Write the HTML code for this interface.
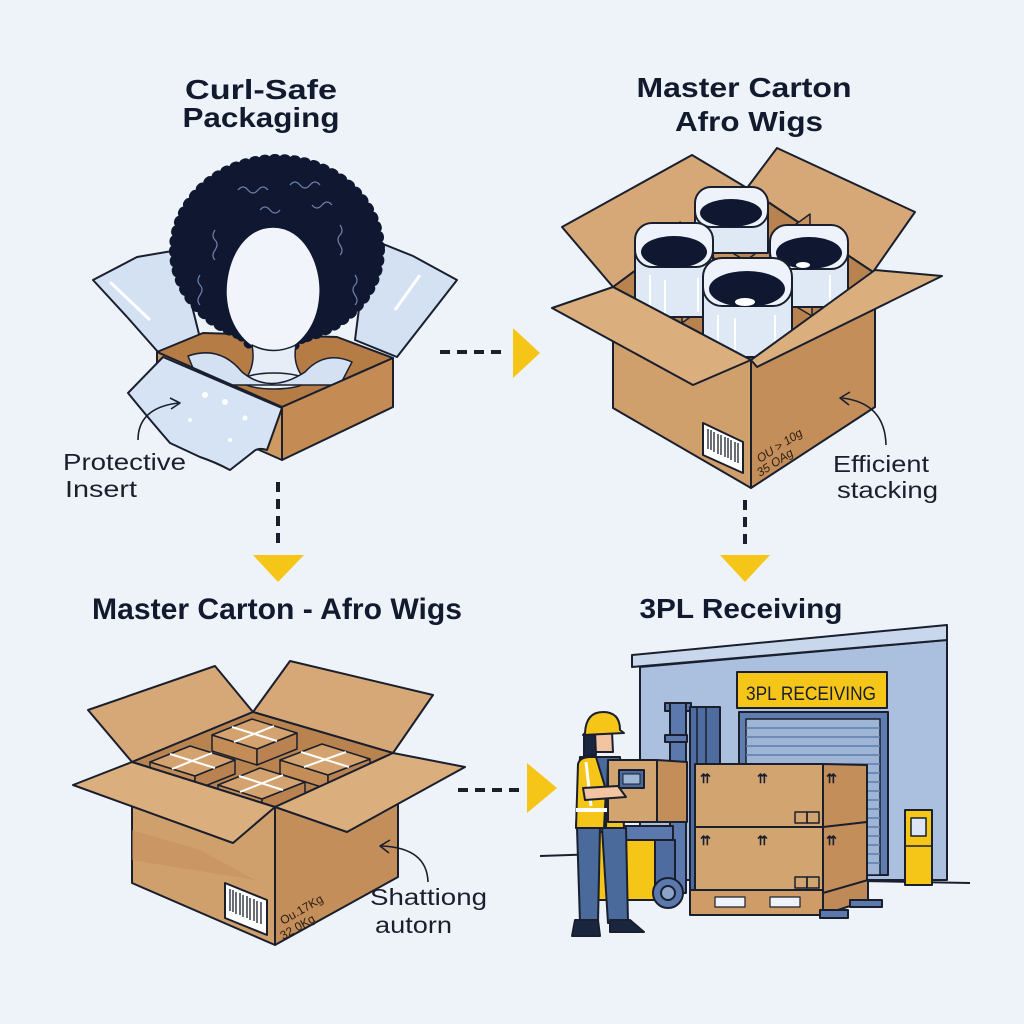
<!DOCTYPE html>
<html><head><meta charset="utf-8"><style>
html,body{margin:0;padding:0;background:#eef3fa;}
svg{display:block;}
text{font-family:"Liberation Sans",sans-serif;}
</style></head><body>
<svg width="1024" height="1024" viewBox="0 0 1024 1024" xmlns="http://www.w3.org/2000/svg">
<rect width="1024" height="1024" fill="#eef3fa"/>
<g stroke="#1a1f2e" stroke-width="2" stroke-linejoin="round">

<!-- ============ TOP LEFT ============ -->
<text x="261" y="99" font-size="28" font-weight="bold" fill="#121a2e" stroke="none" text-anchor="middle" textLength="152" lengthAdjust="spacingAndGlyphs">Curl-Safe</text>
<text x="261" y="127" font-size="28" font-weight="bold" fill="#121a2e" stroke="none" text-anchor="middle" textLength="157" lengthAdjust="spacingAndGlyphs">Packaging</text>

<!-- plastic wings -->
<path d="M93,280 L137,257 L178,250 L200,338 L158,352 L128,318 Z" fill="#d3e1f3"/>
<path d="M368,238 L413,256 L457,280 L397,357 L355,340 Z" fill="#d3e1f3"/>
<path d="M110,282 L150,320 M420,275 L395,310" stroke="#ffffff" stroke-width="3" fill="none"/>
<!-- box interior -->
<path d="M157,352 L203,333 L337,337 L393,358 L282,407 Z" fill="#b67c45"/>
<!-- hair -->
<ellipse cx="277" cy="250" rx="102" ry="90" fill="#0f1830" stroke="#0f1830" stroke-width="12" stroke-dasharray="1 9" stroke-linecap="round"/>
<g fill="none" stroke="#6f82aa" stroke-width="1.2">
<path d="M238,190 q5,-6 10,0 t10,0 t10,0"/><path d="M290,185 q5,-6 10,0 t10,0 t10,0"/>
<path d="M215,230 q-4,6 0,10 t0,10 t0,10"/><path d="M340,225 q4,6 0,10 t0,10 t0,10"/>
<path d="M200,275 q-4,6 0,10 t0,10 t0,10"/><path d="M355,275 q4,6 0,10 t0,10 t0,10"/>
<path d="M260,210 q5,-6 10,0 t10,0"/><path d="M312,205 q5,6 10,0 t10,0"/>
</g>
<!-- face -->
<path d="M273,227 C305,227 322,265 320,295 C318,330 295,353 273,353 C250,353 228,330 226,295 C225,262 242,227 273,227 Z" fill="none" stroke="#0f1830" stroke-width="9" stroke-dasharray="1 9" stroke-linecap="round"/>
<path d="M273,227 C305,227 322,265 320,295 C318,330 295,353 273,353 C250,353 228,330 226,295 C225,262 242,227 273,227 Z" fill="#f1f5fb" stroke="#0f1830" stroke-width="1.5"/>
<!-- neck -->
<path d="M252,345 Q256,365 245,380 L305,380 Q292,365 296,345 Q273,356 252,345 Z" fill="#e6edf7" stroke-width="1.5"/>
<ellipse cx="274" cy="381" rx="32" ry="8" fill="#e6edf7" stroke-width="1.5"/>
<!-- plastic around neck -->
<path d="M188,356 Q220,345 242,372 Q270,395 305,372 Q325,350 352,362 L340,385 L200,385 Z" fill="#d3e1f3" stroke-width="1.5"/>
<!-- box faces -->
<path d="M157,352 L282,407 L282,460 L157,405 Z" fill="#cf9a62"/>
<path d="M282,407 L393,358 L393,407 L282,460 Z" fill="#c48b55"/>
<!-- front sheet -->
<path d="M163,357 L282,408 L267,450 Q258,447 253,452 L230,470 Q215,462 200,457 L170,443 Q150,420 128,393 Z" fill="#d6e3f4"/>
<g fill="#ffffff" stroke="none"><circle cx="205" cy="395" r="3"/><circle cx="225" cy="402" r="3"/><circle cx="245" cy="418" r="2.5"/><circle cx="190" cy="420" r="2"/><circle cx="230" cy="440" r="2"/></g>
<!-- callout -->
<path d="M138,440 Q138,408 178,403" fill="none" stroke-width="1.6"/>
<path d="M170,398 L180,403 L171,409" fill="none" stroke-width="1.6"/>
<text x="63" y="470" font-size="23" fill="#1a1f2e" stroke="none" textLength="123" lengthAdjust="spacingAndGlyphs">Protective</text>
<text x="65" y="497" font-size="23" fill="#1a1f2e" stroke="none" textLength="72" lengthAdjust="spacingAndGlyphs">Insert</text>

<!-- ============ TOP RIGHT ============ -->
<text x="744" y="97" font-size="28" font-weight="bold" fill="#121a2e" stroke="none" text-anchor="middle" textLength="215" lengthAdjust="spacingAndGlyphs">Master Carton</text>
<text x="749" y="131" font-size="28" font-weight="bold" fill="#121a2e" stroke="none" text-anchor="middle" textLength="148" lengthAdjust="spacingAndGlyphs">Afro Wigs</text>

<path d="M562,227 L692,155 L747,188 L613,287 Z" fill="#d6a878"/>
<path d="M747,188 L777,148 L915,212 L873,272 Z" fill="#d6a878"/>
<path d="M613,287 L747,188 L873,272 L751,360 Z" fill="#b8834f"/>
<!-- dividers -->
<path d="M680,238 L812,316 L812,300 L680,222 Z" fill="#c8925c" stroke-width="1.5"/>
<path d="M810,230 L682,323 L682,307 L810,214 Z" fill="#c8925c" stroke-width="1.5"/>
<!-- bags -->
<g>
<path d="M695,205 L695,253 L768,253 L768,205 Z" fill="#dfe8f5"/>
<rect x="695" y="187" width="73" height="40" rx="16" fill="#eef3fb"/>
<ellipse cx="731" cy="213" rx="31" ry="14" fill="#0f1830" stroke="none"/>
</g>
<g>
<path d="M635,245 L635,317 L713,317 L713,245 Z" fill="#dfe8f5"/>
<path d="M650,275 V312 M665,280 V315 M698,278 V312" stroke="#ffffff" stroke-width="2" fill="none"/>
<rect x="635" y="223" width="78" height="44" rx="17" fill="#eef3fb"/>
<ellipse cx="674" cy="252" rx="33" ry="16" fill="#0f1830" stroke="none"/>
</g>
<g>
<path d="M770,245 L770,307 L848,307 L848,245 Z" fill="#dfe8f5"/>
<path d="M785,275 V302 M830,275 V302" stroke="#ffffff" stroke-width="2" fill="none"/>
<rect x="770" y="225" width="78" height="44" rx="17" fill="#eef3fb"/>
<ellipse cx="809" cy="253" rx="33" ry="16" fill="#0f1830" stroke="none"/>
<ellipse cx="803" cy="265" rx="7" ry="3" fill="#ffffff" stroke="none"/>
</g>
<g>
<path d="M703,280 L703,357 L792,357 L792,280 Z" fill="#dfe8f5"/>
<path d="M718,315 V352 M735,318 V355 M775,315 V352" stroke="#ffffff" stroke-width="2" fill="none"/>
<rect x="703" y="258" width="89" height="48" rx="19" fill="#eef3fb"/>
<ellipse cx="747" cy="289" rx="38" ry="18" fill="#0f1830" stroke="none"/>
<ellipse cx="745" cy="302" rx="10" ry="4" fill="#ffffff" stroke="none"/>
</g>
<!-- faces -->
<path d="M613,287 L751,360 L751,488 L613,408 Z" fill="#d0a06c"/>
<path d="M751,360 L875,272 L875,407 L751,488 Z" fill="#c48e5b"/>
<path d="M552,308 L613,287 L751,360 L693,385 Z" fill="#dbae7e"/>
<path d="M751,360 L875,270 L942,276 L757,367 Z" fill="#dbae7e"/>
<!-- barcode -->
<path d="M703,423 L743,442 L743,473 L703,455 Z" fill="#ffffff"/>
<g stroke="#1a1f2e" stroke-width="1.3">
<path d="M708,429 v20 M711,430 v20 M714,432 v20 M718,434 v20 M721,435 v20 M725,437 v20 M728,438 v20 M731,440 v20 M735,442 v20 M738,443 v20"/>
</g>
<text transform="translate(760,463) rotate(-33)" font-size="12" fill="#2a1e12" stroke="none" font-style="italic">OU &gt; 10g</text>
<text transform="translate(760,477) rotate(-33)" font-size="12" fill="#2a1e12" stroke="none" font-style="italic">35 OAg</text>
<path d="M886,445 Q885,403 842,398" fill="none" stroke-width="1.6"/>
<path d="M850,392 L840,398 L849,405" fill="none" stroke-width="1.6"/>
<text x="833" y="472" font-size="23" fill="#1a1f2e" stroke="none" textLength="96" lengthAdjust="spacingAndGlyphs">Efficient</text>
<text x="837" y="498" font-size="23" fill="#1a1f2e" stroke="none" textLength="101" lengthAdjust="spacingAndGlyphs">stacking</text>

<!-- ============ BOTTOM LEFT ============ -->
<text x="277" y="619" font-size="30" font-weight="bold" fill="#121a2e" stroke="none" text-anchor="middle" textLength="370" lengthAdjust="spacingAndGlyphs">Master Carton - Afro Wigs</text>

<path d="M88,710 L215,666 L253,712 L132,762 Z" fill="#d6a878"/>
<path d="M253,712 L290,661 L433,695 L393,753 Z" fill="#d6a878"/>
<path d="M132,762 L253,712 L393,753 L275,807 Z" fill="#b8834f"/>
<!-- inner boxes -->
<g stroke-width="1.5">
<path d="M212,735 L257,749 L257,765 L212,751 Z" fill="#c48d58"/>
<path d="M257,749 L297,733 L297,749 L257,765 Z" fill="#b98250"/>
<path d="M212,735 L257,749 L297,733 L252,719 Z" fill="#d3a26e"/>
<path d="M232,727 L277,741 M234,742 L274,726" stroke="#ffffff" stroke-width="2"/>
<path d="M150,762 L195,776 L195,790 L150,776 Z" fill="#c48d58"/>
<path d="M195,776 L235,760 L235,774 L195,790 Z" fill="#b98250"/>
<path d="M150,762 L195,776 L235,760 L190,746 Z" fill="#d3a26e"/>
<path d="M170,754 L215,768 M172,769 L212,753" stroke="#ffffff" stroke-width="2"/>
<path d="M280,760 L328,775 L328,789 L280,774 Z" fill="#c48d58"/>
<path d="M328,775 L370,759 L370,773 L328,789 Z" fill="#b98250"/>
<path d="M280,760 L328,775 L370,759 L322,744 Z" fill="#d3a26e"/>
<path d="M301,752 L349,767 M304,767 L346,752" stroke="#ffffff" stroke-width="2"/>
<path d="M218,785 L262,799 L262,812 L218,798 Z" fill="#c48d58"/>
<path d="M262,799 L305,782 L305,795 L262,812 Z" fill="#b98250"/>
<path d="M218,785 L262,799 L305,782 L260,768 Z" fill="#d3a26e"/>
<path d="M239,776 L283,790 M240,792 L283,775" stroke="#ffffff" stroke-width="2"/>
</g>
<!-- faces -->
<path d="M132,762 L275,807 L275,945 L132,883 Z" fill="#d0a06c"/>
<path d="M132,830 L200,850 L255,880 L132,860 Z" fill="#c48e5b" stroke="none" opacity="0.5"/>
<path d="M275,807 L398,755 L398,877 L275,945 Z" fill="#c48e5b"/>
<path d="M73,785 L132,762 L275,807 L233,843 Z" fill="#dbae7e"/>
<path d="M275,807 L393,753 L465,767 L347,832 Z" fill="#dbae7e"/>
<!-- barcode -->
<path d="M225,883 L267,900 L267,935 L225,918 Z" fill="#ffffff"/>
<g stroke="#1a1f2e" stroke-width="1.3">
<path d="M230,889 v22 M233,890 v22 M236,892 v22 M240,893 v22 M243,895 v22 M247,896 v22 M250,898 v22 M254,899 v22 M257,901 v22 M261,902 v22"/>
</g>
<text transform="translate(283,925) rotate(-30)" font-size="12" fill="#2a1e12" stroke="none">Ou.17Kg</text>
<text transform="translate(283,940) rotate(-30)" font-size="12" fill="#2a1e12" stroke="none">32 0Kg</text>
<path d="M428,882 Q427,848 382,846" fill="none" stroke-width="1.6"/>
<path d="M390,840 L380,846 L389,853" fill="none" stroke-width="1.6"/>
<text x="370" y="905" font-size="23" fill="#1a1f2e" stroke="none" textLength="117" lengthAdjust="spacingAndGlyphs">Shattiong</text>
<text x="375" y="933" font-size="23" fill="#1a1f2e" stroke="none" textLength="77" lengthAdjust="spacingAndGlyphs">autorn</text>

<!-- ============ BOTTOM RIGHT ============ -->
<text x="741" y="618" font-size="28" font-weight="bold" fill="#121a2e" stroke="none" text-anchor="middle" textLength="203" lengthAdjust="spacingAndGlyphs">3PL Receiving</text>

<!-- building -->
<path d="M640,667 L947,640 L947,880 L640,880 Z" fill="#aac0de"/>
<path d="M632,655 L947,625 L947,640 L632,667 Z" fill="#c9d7ec"/>
<rect x="737" y="672" width="150" height="36" fill="#f5c518"/>
<text x="811" y="700" font-size="19" fill="#1a1f2e" stroke="none" text-anchor="middle" textLength="130" lengthAdjust="spacingAndGlyphs">3PL RECEIVING</text>
<rect x="739" y="712" width="149" height="163" fill="#5f7daf"/>
<rect x="746" y="719" width="134" height="156" fill="#9fb5d6" stroke-width="1.5"/>
<g stroke="#5f7daf" stroke-width="1.5">
<path d="M746,728 H880 M746,737 H880 M746,746 H880 M746,755 H880 M746,764 H880 M746,773 H880 M746,782 H880 M746,791 H880 M746,800 H880 M746,809 H880 M746,818 H880 M746,827 H880 M746,836 H880 M746,845 H880 M746,854 H880 M746,863 H880"/>
</g>
<!-- ground lines -->
<path d="M540,856 L600,854" fill="none"/>
<path d="M860,881 L970,883" fill="none"/>
<!-- yellow post -->
<rect x="905" y="810" width="27" height="75" fill="#f5c518"/>
<rect x="911" y="818" width="15" height="18" fill="#dbe6f5" stroke-width="1.5"/>
<path d="M905,846 H932" fill="none" stroke-width="1.5"/>
<!-- forklift -->
<rect x="665" y="703" width="26" height="8" fill="#5b79ac"/>
<rect x="670" y="703" width="16" height="190" fill="#5b79ac"/>
<rect x="690" y="707" width="30" height="185" fill="#4e6c9f"/>
<rect x="665" y="735" width="22" height="7" fill="#5b79ac"/>
<path d="M697,707 V890 M706,707 V890" fill="none" stroke-width="1.5"/>
<path d="M598,832 L655,832 L660,900 L598,900 Z" fill="#f5c518"/>
<rect x="623" y="826" width="50" height="14" fill="#5b79ac"/>
<rect x="655" y="840" width="20" height="50" fill="#4e6c9f"/>
<circle cx="668" cy="893" r="15" fill="#5b79ac"/>
<circle cx="668" cy="893" r="7" fill="#8aa3c8"/>
<!-- pallet boxes -->
<path d="M823,764 L867,765 L867,822 L823,828 Z" fill="#c48e5b"/>
<rect x="695" y="764" width="128" height="63" fill="#d2a470"/>
<path d="M823,827 L867,822 L867,882 L823,893 Z" fill="#c48e5b"/>
<rect x="695" y="827" width="128" height="66" fill="#d2a470"/>
<g fill="none" stroke-width="1.5">
<rect x="795" y="812" width="12" height="11"/><rect x="807" y="812" width="12" height="11"/>
<rect x="795" y="877" width="12" height="11"/><rect x="807" y="877" width="12" height="11"/>
</g>
<g font-size="13" fill="#1a1f2e" stroke="none" font-weight="bold">
<text x="700" y="783">⇈</text><text x="757" y="783">⇈</text><text x="826" y="783">⇈</text>
<text x="700" y="845">⇈</text><text x="757" y="845">⇈</text><text x="826" y="845">⇈</text>
</g>
<!-- pallet -->
<path d="M823,893 L868,880 L868,900 L823,915 Z" fill="#c08a58"/>
<rect x="690" y="890" width="133" height="25" fill="#cf9c68"/>
<g fill="#eef3fa" stroke-width="1.2">
<rect x="715" y="897" width="30" height="10"/><rect x="770" y="897" width="30" height="10"/>
</g>
<path d="M820,910 L848,910 L848,918 L820,918 Z" fill="#5b79ac"/>
<path d="M850,900 L882,900 L882,907 L850,907 Z" fill="#5b79ac"/>
<!-- worker -->
<path d="M577,828 L600,828 L598,923 L580,923 Z" fill="#4a6a9c"/>
<path d="M602,828 L626,828 L628,923 L608,923 Z" fill="#4a6a9c"/>
<path d="M575,920 L598,920 L600,936 L572,936 Z" fill="#1a2540"/>
<path d="M610,920 L630,920 L644,932 L610,932 Z" fill="#1a2540"/>
<path d="M580,757 L620,757 L624,828 L576,828 Z" fill="#4a6a9c"/>
<path d="M578,764 Q580,757 590,757 L596,757 L606,790 L604,828 L576,828 Z" fill="#f5c518"/>
<path d="M608,760 L620,762 L624,828 L606,828 Z" fill="#f5c518"/>
<path d="M576,810 L624,810" stroke="#ffffff" stroke-width="4"/>
<path d="M586,762 L591,806" stroke="#ffffff" stroke-width="3"/>
<path d="M590,732 L612,732 L613,752 L592,752 Z" fill="#f2c4a2"/>
<path d="M584,734 L595,732 L596,755 L584,756 Z" fill="#1a2540"/>
<path d="M585,733 Q586,712 603,712 Q620,712 620,730 L624,733 L583,735 Z" fill="#f5c518"/>
<path d="M657,760 L687,762 L687,822 L657,822 Z" fill="#c48e5b"/>
<rect x="608" y="760" width="49" height="62" fill="#d2a470"/>
<rect x="619" y="770" width="25" height="18" fill="#4a6a9c"/>
<rect x="623" y="774" width="17" height="10" fill="#9fb5d6" stroke-width="1"/>
<path d="M583,788 L618,786 L626,797 L585,800 Z" fill="#f2c4a2"/>
</g>

<!-- ============ CONNECTORS ============ -->
<g stroke="#1a1f2e" stroke-width="4" fill="none" stroke-dasharray="10 7">
<path d="M440,352 H508"/>
<path d="M278,482 V548"/>
<path d="M458,790 H522"/>
<path d="M745,500 V548"/>
</g>
<g fill="#f5c518">
<path d="M513,328 L540,353 L513,378 Z"/>
<path d="M253,555 L304,555 L278,582 Z"/>
<path d="M527,763 L557,788 L527,813 Z"/>
<path d="M720,555 L770,555 L745,582 Z"/>
</g>
</svg>
</body></html>
